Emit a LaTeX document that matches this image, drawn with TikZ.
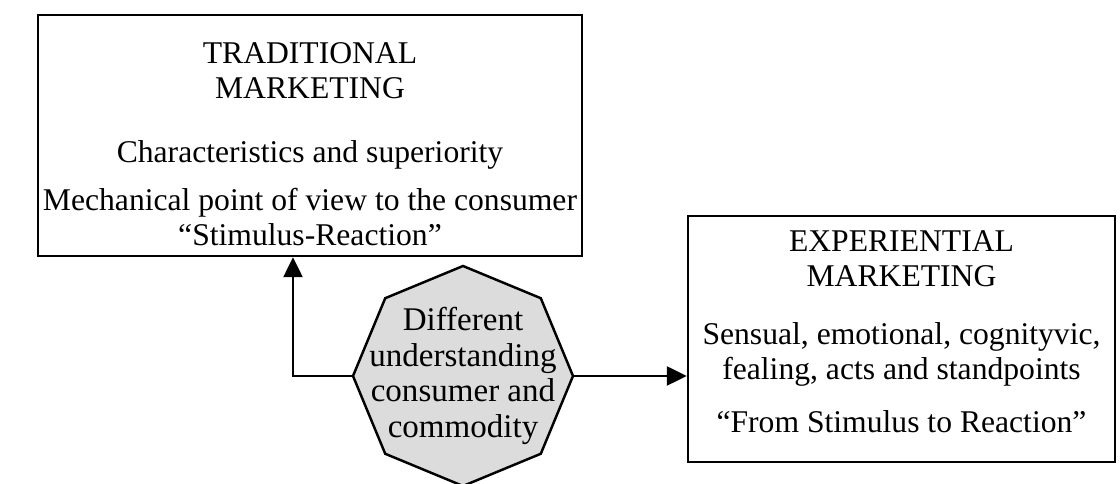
\documentclass[tikz,border=0pt]{standalone}
\usepackage{fontspec}
\setmainfont{Liberation Serif}
\definecolor{OctaGray}{HTML}{DCDCDC}
\usetikzlibrary{arrows.meta, positioning, shapes.geometric}

\begin{document}
\begin{tikzpicture}[
    mbox/.style={draw, line width=1.4pt, inner sep=0pt},
    mtext/.style={inner sep=0pt, align=center, font=\fontsize{18}{19.9}\selectfont},
    conn/.style={line width=1.4pt, -{Triangle[length=0.4cm, width=0.38cm]}}
  ]
  \useasboundingbox (0,0) rectangle (22.4,9.68);
  % boxes
  \node[mbox, minimum width=10.88cm, minimum height=4.82cm] (trad) at (6.2,6.97) {};
  \node[mbox, minimum width=8.54cm, minimum height=4.92cm] (exp) at (18.03,2.9) {};
  \node[mtext, below=0.56cm of trad.north] (tradtxt) {TRADITIONAL\\MARKETING\\[0.6cm]Characteristics and superiority\\[0.26cm]Mechanical point of view to the consumer\\“Stimulus-Reaction”};
  \node[mtext, below=0.32cm of exp.north] (exptxt) {EXPERIENTIAL\\MARKETING\\[0.46cm]Sensual, emotional, cognityvic,\\fealing, acts and standpoints\\[0.36cm]“From Stimulus to Reaction”};
  % octagon in the middle
  \node[draw, regular polygon, regular polygon sides=8, shape border rotate=22.5, minimum size=4.4cm, inner sep=0pt, fill=OctaGray, line width=1.4pt] (diff) at (9.26,2.16) {};
  \node[mtext, font=\fontsize{18.8}{20.4}\selectfont] (difftxt) at (diff.center) {Different\\understanding\\consumer and\\commodity};
  % connectors
  \draw[conn] (diff.west) -| ([xshift=-0.34cm]trad.south);
  \draw[conn] (diff.east) -- (diff.east -| exp.west);
\end{tikzpicture}
\end{document}
